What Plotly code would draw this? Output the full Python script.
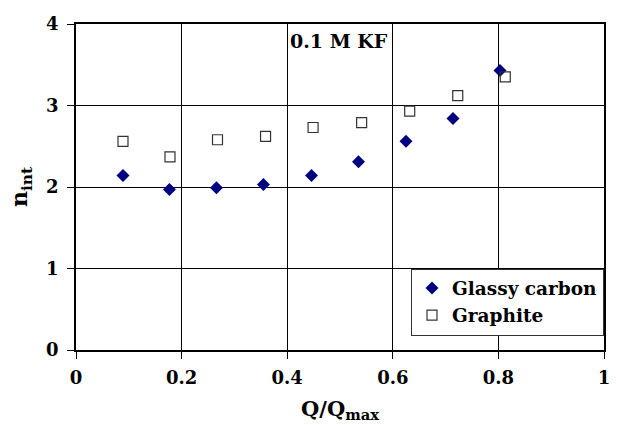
import plotly.graph_objects as go

q_gc = [0.089, 0.177, 0.266, 0.355, 0.446, 0.535, 0.625, 0.714, 0.803]
n_gc = [2.14, 1.97, 1.99, 2.03, 2.14, 2.31, 2.56, 2.84, 3.43]
q_gr = [0.089, 0.178, 0.268, 0.359, 0.449, 0.541, 0.632, 0.723, 0.813]
n_gr = [2.56, 2.37, 2.58, 2.62, 2.73, 2.79, 2.93, 3.12, 3.35]

FONT = "DejaVu Serif"

fig = go.Figure()
fig.add_trace(go.Scatter(x=q_gc, y=n_gc, mode="markers", name="<b>Glassy carbon</b>",
                         marker=dict(symbol="diamond", size=10, color="#000080")))
fig.add_trace(go.Scatter(x=q_gr, y=n_gr, mode="markers", name="<b>Graphite</b>",
                         marker=dict(symbol="square-open", size=10, color="#333333",
                                     line=dict(width=1.2, color="#333333"))))

fig.add_annotation(x=0.498, y=3.79, xref="x", yref="y", text="<b>0.1 M KF</b>", showarrow=False,
                   xanchor="center", yanchor="middle",
                   font=dict(family=FONT, size=19, color="black"))

fig.update_layout(
    width=618, height=425,
    margin=dict(l=76, r=8, t=24, b=74),
    paper_bgcolor="white", plot_bgcolor="white",
    font=dict(family=FONT, size=17, color="black"),
    showlegend=True,
    legend=dict(x=1.0, y=0.25, xanchor="right", yanchor="top",
                bordercolor="#333333", borderwidth=1, bgcolor="white",
                font=dict(family=FONT, size=18.5, color="black"),
                itemwidth=30, tracegroupgap=0),
)
fig.update_xaxes(range=[0, 1], tickvals=[0, 0.2, 0.4, 0.6, 0.8, 1],
                 ticktext=["<b>0</b>", "<b>0.2</b>", "<b>0.4</b>", "<b>0.6</b>", "<b>0.8</b>", "<b>1</b>"],
                 showgrid=True, gridcolor="black", gridwidth=1,
                 showline=True, linecolor="black", linewidth=1.5, mirror=True,
                 zeroline=False, ticks="outside", ticklen=7, tickcolor="black",
                 ticklabelstandoff=4,
                 tickfont=dict(family=FONT, size=18),
                 title=dict(text="<b>Q/Q<sub>max</sub></b>", standoff=14,
                            font=dict(family=FONT, size=21)))
fig.update_yaxes(range=[0, 4], tickvals=[0, 1, 2, 3, 4],
                 ticktext=["<b>0</b>", "<b>1</b>", "<b>2</b>", "<b>3</b>", "<b>4</b>"],
                 showgrid=True, gridcolor="black", gridwidth=1,
                 showline=True, linecolor="black", linewidth=1.5, mirror=True,
                 zeroline=False, ticks="outside", ticklen=7, tickcolor="black",
                 ticklabelstandoff=5,
                 tickfont=dict(family=FONT, size=18),
                 title=dict(text="<b>n<sub>int</sub></b>", standoff=12,
                            font=dict(family=FONT, size=22)))

fig.write_html("out.html")
